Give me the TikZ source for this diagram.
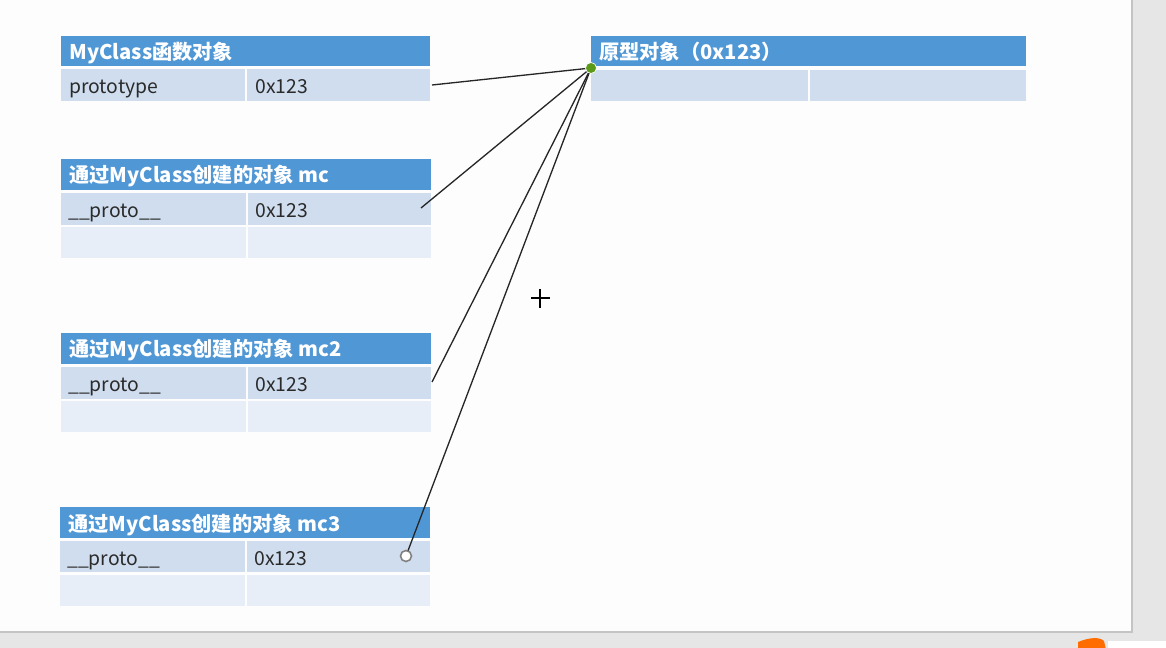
\documentclass[tikz,border=0pt]{standalone}
\usepackage{fontspec}
\setmainfont{Noto Sans CJK SC}
\definecolor{hdrblue}{HTML}{5097D5}
\definecolor{rowA}{HTML}{CFDDEF}
\definecolor{rowB}{HTML}{E8EEF7}
\definecolor{slidebg}{HTML}{FDFDFD}
\definecolor{outerbg}{HTML}{E6E6E6}
\definecolor{slideedge}{HTML}{C4C4C4}
\definecolor{dotgreen}{HTML}{5A9A18}
\definecolor{textdark}{HTML}{2A2A2A}
\tikzset{
  cellbox/.style={rectangle, inner sep=0pt, outer sep=0pt, anchor=north west, draw=none},
  hdrcell/.style={cellbox, fill=hdrblue},
  acell/.style={cellbox, fill=rowA},
  bcell/.style={cellbox, fill=rowB},
  htext/.style={anchor=base west, inner sep=0pt, text=white, font=\fontsize{11.5}{13}\selectfont\bfseries},
  ctext/.style={anchor=base west, inner sep=0pt, text=textdark, font=\fontsize{11}{12}\selectfont},
  link/.style={draw=black!85, line width=0.75pt},
}
% \tcell{name}{style}{x}{y}{w}{h}
\newcommand\tcell[6]{\node[#2, minimum width={#5*0.02cm}, minimum height={#6*0.02cm}] (#1) at (#3,#4) {};}
% text offset from a cell's west anchor: (dx px, down dy px)
\newcommand\toff[3]{([xshift=#2*0.02cm,yshift=-#3*0.02cm]#1.west)}
\begin{document}
\begin{tikzpicture}[x=0.02cm,y=-0.02cm]
\useasboundingbox (0,0) rectangle (1166,648);
\fill[outerbg] (0,0) rectangle (1166,648);
\filldraw[fill=slidebg, draw=slideedge, line width=0.8pt] (-10,-10) rectangle (1132,632);
% bottom-right taskbar bits
\fill[white] (1108,641) rectangle (1166,650);
\fill[orange!85!red] (1078,642) .. controls (1090,637) and (1100,637) .. (1104,641) -- (1106,650) -- (1078,650) -- cycle;

% Table 1: MyClass function object
\tcell{t1h}{hdrcell}{61}{36}{369}{30}
\tcell{t1a}{acell}{61}{69}{184}{32}
\tcell{t1b}{acell}{247}{69}{183}{32}
\node[htext] (t1ht) at \toff{t1h}{8}{8.5} {MyClass函数对象};
\node[ctext] (t1at) at \toff{t1a}{8}{9} {prototype};
\node[ctext] (t1bt) at \toff{t1b}{8}{9} {0x123};

% Table 2: mc
\tcell{t2h}{hdrcell}{61}{159}{370}{31}
\tcell{t2a}{acell}{61}{193}{185}{32}
\tcell{t2b}{acell}{248}{193}{183}{32}
\tcell{t2c}{bcell}{61}{227}{185}{31}
\tcell{t2d}{bcell}{248}{227}{183}{31}
\node[htext] (t2ht) at \toff{t2h}{8}{8.5} {通过MyClass创建的对象 mc};
\node[ctext] (t2at) at \toff{t2a}{7}{9} {\_\_proto\_\_};
\node[ctext] (t2bt) at \toff{t2b}{7}{9} {0x123};

% Table 3: mc2
\tcell{t3h}{hdrcell}{61}{333}{370}{31}
\tcell{t3a}{acell}{61}{367}{185}{32}
\tcell{t3b}{acell}{248}{367}{183}{32}
\tcell{t3c}{bcell}{61}{401}{185}{31}
\tcell{t3d}{bcell}{248}{401}{183}{31}
\node[htext] (t3ht) at \toff{t3h}{8}{8.5} {通过MyClass创建的对象 mc2};
\node[ctext] (t3at) at \toff{t3a}{7}{9} {\_\_proto\_\_};
\node[ctext] (t3bt) at \toff{t3b}{7}{9} {0x123};

% Table 4: mc3
\tcell{t4h}{hdrcell}{60}{507}{370}{31}
\tcell{t4a}{acell}{60}{541}{185}{31}
\tcell{t4b}{acell}{247}{541}{183}{31}
\tcell{t4c}{bcell}{60}{575}{185}{31}
\tcell{t4d}{bcell}{247}{575}{183}{31}
\node[htext] (t4ht) at \toff{t4h}{8}{8.5} {通过MyClass创建的对象 mc3};
\node[ctext] (t4at) at \toff{t4a}{7}{9} {\_\_proto\_\_};
\node[ctext] (t4bt) at \toff{t4b}{7}{9} {0x123};

% Prototype object
\tcell{ph}{hdrcell}{591}{36}{435}{30}
\tcell{pa}{acell}{591}{70}{217}{31}
\tcell{pb}{acell}{810}{70}{216}{31}
\node[htext] (pht) at \toff{ph}{8}{8.5} {原型对象（0x123）};

% connector end points
\coordinate (e1) at (432,85);
\coordinate (e2) at (421,208);
\coordinate (e3) at (432,382);
\node[circle, minimum size={11*0.02cm}, inner sep=0pt] (e4) at (406,556) {};
\node[circle, minimum size={10*0.02cm}, inner sep=0pt] (pdot) at (591,68) {};

\draw[link] (pdot.center) -- (e1);
\draw[link] (pdot.center) -- (e2);
\draw[link] (pdot.center) -- (e3);
\draw[link] (pdot.center) -- (e4.center);

\fill[dotgreen, draw=white, line width=0.4pt] (pdot.center) circle (5.5);
\filldraw[fill=white, draw=black!50, line width=0.9pt] (e4.center) circle (5.5);

% mouse cursor
\draw[black, line width=0.7pt] (531,298) -- (550,298) (540,289) -- (540,308);
\end{tikzpicture}
\end{document}
